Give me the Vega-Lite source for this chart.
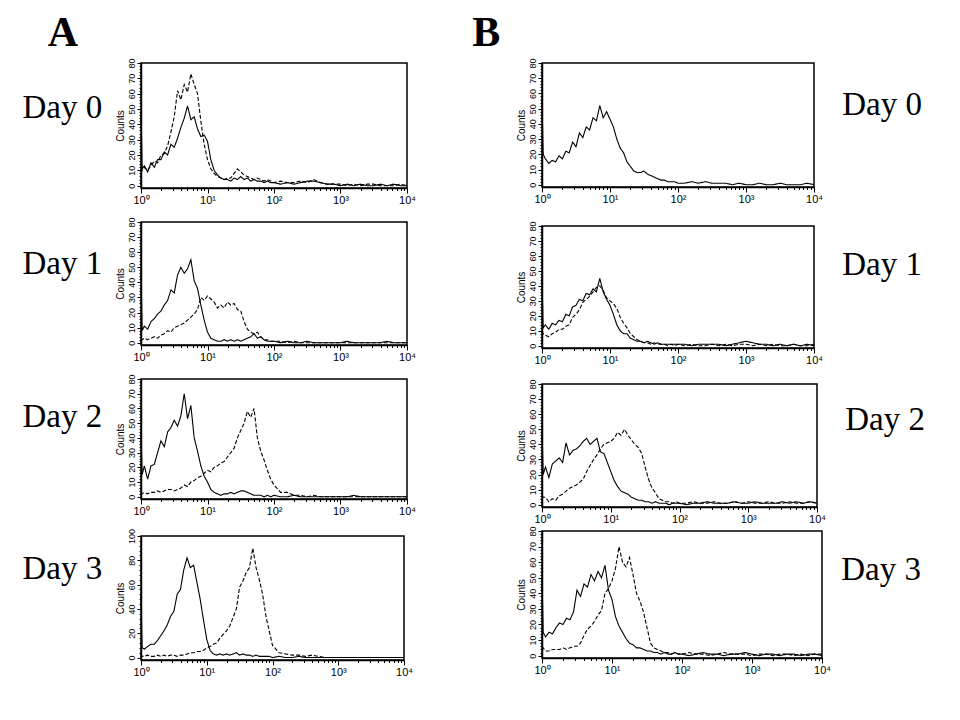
{
"$schema": "https://vega.github.io/schema/vega-lite/v6.json",
"background": "white",
"padding": {"left": 21, "top": 12, "right": 5, "bottom": 5},
"data": {"name": "h"},
"datasets": {"h": [
{"p":"A0","x":1,"s":50,"d":12},{"p":"A0","x":1.04,"s":11,"d":10},{"p":"A0","x":1.122,"s":13,"d":12},{"p":"A0","x":1.259,"s":9,"d":10},{"p":"A0","x":1.413,"s":15,"d":13},{"p":"A0","x":1.585,"s":12,"d":16},{"p":"A0","x":1.778,"s":17,"d":15},{"p":"A0","x":1.995,"s":17,"d":20},{"p":"A0","x":2.239,"s":22,"d":21},{"p":"A0","x":2.512,"s":20,"d":26},
{"p":"A0","x":2.818,"s":27,"d":35},{"p":"A0","x":3.162,"s":25,"d":45},{"p":"A0","x":3.548,"s":31,"d":62},{"p":"A0","x":3.981,"s":38,"d":56},{"p":"A0","x":4.467,"s":44,"d":66},{"p":"A0","x":5.012,"s":52,"d":61},{"p":"A0","x":5.623,"s":43,"d":73},{"p":"A0","x":6.31,"s":45,"d":66},{"p":"A0","x":7.079,"s":37,"d":60},{"p":"A0","x":7.943,"s":32,"d":42},
{"p":"A0","x":8.913,"s":33,"d":27},{"p":"A0","x":10,"s":29,"d":17},{"p":"A0","x":11.22,"s":17,"d":11},{"p":"A0","x":12.59,"s":10,"d":8},{"p":"A0","x":14.13,"s":7,"d":6},{"p":"A0","x":15.85,"s":5,"d":5},{"p":"A0","x":17.78,"s":4,"d":4},{"p":"A0","x":19.95,"s":4,"d":5},{"p":"A0","x":22.39,"s":3,"d":5},{"p":"A0","x":25.12,"s":5,"d":8},
{"p":"A0","x":28.18,"s":4,"d":11},{"p":"A0","x":31.62,"s":6,"d":9},{"p":"A0","x":35.48,"s":4,"d":7},{"p":"A0","x":39.81,"s":5,"d":6},{"p":"A0","x":44.67,"s":3,"d":5},{"p":"A0","x":50.12,"s":4,"d":4},{"p":"A0","x":56.23,"s":3,"d":5},{"p":"A0","x":63.1,"s":3,"d":4},{"p":"A0","x":70.79,"s":2,"d":3},{"p":"A0","x":79.43,"s":3,"d":4},
{"p":"A0","x":89.13,"s":2,"d":3},{"p":"A0","x":100,"s":2,"d":2},{"p":"A0","x":125.9,"s":1,"d":3},{"p":"A0","x":158.5,"s":2,"d":2},{"p":"A0","x":199.5,"s":1,"d":2},{"p":"A0","x":251.2,"s":2,"d":3},{"p":"A0","x":316.2,"s":3,"d":2},{"p":"A0","x":398.1,"s":3,"d":4},{"p":"A0","x":501.2,"s":2,"d":2},{"p":"A0","x":631,"s":1,"d":1},
{"p":"A0","x":794.3,"s":1,"d":1},{"p":"A0","x":1000,"s":0,"d":1},{"p":"A0","x":1259,"s":1,"d":0},{"p":"A0","x":1585,"s":0,"d":1},{"p":"A0","x":1995,"s":1,"d":0},{"p":"A0","x":2512,"s":0,"d":1},{"p":"A0","x":3162,"s":0,"d":1},{"p":"A0","x":3981,"s":1,"d":0},{"p":"A0","x":5012,"s":0,"d":0},{"p":"A0","x":6310,"s":1,"d":0},{"p":"A0","x":7943,"s":0,"d":1},{"p":"A0","x":10000,"s":0,"d":0},

{"p":"A1","x":1,"s":47,"d":3},{"p":"A1","x":1.04,"s":8,"d":2},{"p":"A1","x":1.122,"s":11,"d":3},{"p":"A1","x":1.259,"s":9,"d":2},{"p":"A1","x":1.413,"s":14,"d":3},{"p":"A1","x":1.585,"s":16,"d":4},{"p":"A1","x":1.778,"s":19,"d":3},{"p":"A1","x":1.995,"s":21,"d":5},{"p":"A1","x":2.239,"s":25,"d":6},{"p":"A1","x":2.512,"s":28,"d":8},
{"p":"A1","x":2.818,"s":35,"d":7},{"p":"A1","x":3.162,"s":33,"d":10},{"p":"A1","x":3.548,"s":45,"d":11},{"p":"A1","x":3.981,"s":50,"d":12},{"p":"A1","x":4.467,"s":46,"d":13},{"p":"A1","x":5.012,"s":49,"d":15},{"p":"A1","x":5.623,"s":55,"d":17},{"p":"A1","x":6.31,"s":41,"d":19},{"p":"A1","x":7.079,"s":36,"d":22},{"p":"A1","x":7.943,"s":25,"d":30},
{"p":"A1","x":8.913,"s":15,"d":28},{"p":"A1","x":10,"s":7,"d":31},{"p":"A1","x":11.22,"s":3,"d":29},{"p":"A1","x":12.59,"s":2,"d":27},{"p":"A1","x":14.13,"s":1,"d":23},{"p":"A1","x":15.85,"s":1,"d":25},{"p":"A1","x":17.78,"s":2,"d":23},{"p":"A1","x":19.95,"s":1,"d":27},{"p":"A1","x":22.39,"s":2,"d":25},{"p":"A1","x":25.12,"s":1,"d":26},
{"p":"A1","x":28.18,"s":2,"d":22},{"p":"A1","x":31.62,"s":1,"d":21},{"p":"A1","x":35.48,"s":2,"d":14},{"p":"A1","x":39.81,"s":3,"d":9},{"p":"A1","x":44.67,"s":4,"d":7},{"p":"A1","x":50.12,"s":6,"d":6},{"p":"A1","x":56.23,"s":3,"d":7},{"p":"A1","x":63.1,"s":4,"d":4},{"p":"A1","x":70.79,"s":2,"d":2},{"p":"A1","x":79.43,"s":1,"d":2},
{"p":"A1","x":89.13,"s":1,"d":1},{"p":"A1","x":100,"s":1,"d":1},{"p":"A1","x":125.9,"s":0,"d":1},{"p":"A1","x":158.5,"s":1,"d":0},{"p":"A1","x":199.5,"s":0,"d":1},{"p":"A1","x":251.2,"s":0,"d":0},{"p":"A1","x":316.2,"s":1,"d":0},{"p":"A1","x":398.1,"s":0,"d":0},{"p":"A1","x":501.2,"s":0,"d":0},{"p":"A1","x":631,"s":0,"d":0},
{"p":"A1","x":794.3,"s":0,"d":0},{"p":"A1","x":1000,"s":0,"d":0},{"p":"A1","x":1259,"s":1,"d":0},{"p":"A1","x":1585,"s":0,"d":0},{"p":"A1","x":1995,"s":0,"d":0},{"p":"A1","x":2512,"s":0,"d":0},{"p":"A1","x":3162,"s":0,"d":0},{"p":"A1","x":3981,"s":0,"d":0},{"p":"A1","x":5012,"s":1,"d":0},{"p":"A1","x":6310,"s":0,"d":0},{"p":"A1","x":7943,"s":0,"d":0},{"p":"A1","x":10000,"s":0,"d":0},

{"p":"A2","x":1,"s":45,"d":3},{"p":"A2","x":1.04,"s":15,"d":2},{"p":"A2","x":1.122,"s":21,"d":3},{"p":"A2","x":1.259,"s":12,"d":2},{"p":"A2","x":1.413,"s":21,"d":3},{"p":"A2","x":1.585,"s":22,"d":3},{"p":"A2","x":1.778,"s":30,"d":4},{"p":"A2","x":1.995,"s":38,"d":3},{"p":"A2","x":2.239,"s":34,"d":4},{"p":"A2","x":2.512,"s":44,"d":5},
{"p":"A2","x":2.818,"s":47,"d":5},{"p":"A2","x":3.162,"s":52,"d":4},{"p":"A2","x":3.548,"s":48,"d":5},{"p":"A2","x":3.981,"s":55,"d":6},{"p":"A2","x":4.467,"s":70,"d":8},{"p":"A2","x":5.012,"s":53,"d":7},{"p":"A2","x":5.623,"s":62,"d":10},{"p":"A2","x":6.31,"s":40,"d":11},{"p":"A2","x":7.079,"s":31,"d":13},{"p":"A2","x":7.943,"s":21,"d":14},
{"p":"A2","x":8.913,"s":14,"d":16},{"p":"A2","x":10,"s":10,"d":18},{"p":"A2","x":11.22,"s":5,"d":17},{"p":"A2","x":12.59,"s":3,"d":20},{"p":"A2","x":14.13,"s":2,"d":21},{"p":"A2","x":15.85,"s":1,"d":23},{"p":"A2","x":17.78,"s":2,"d":24},{"p":"A2","x":19.95,"s":2,"d":27},{"p":"A2","x":22.39,"s":3,"d":30},{"p":"A2","x":25.12,"s":2,"d":33},
{"p":"A2","x":28.18,"s":3,"d":40},{"p":"A2","x":31.62,"s":4,"d":45},{"p":"A2","x":35.48,"s":4,"d":50},{"p":"A2","x":39.81,"s":3,"d":58},{"p":"A2","x":44.67,"s":2,"d":54},{"p":"A2","x":50.12,"s":1,"d":60},{"p":"A2","x":56.23,"s":1,"d":40},{"p":"A2","x":63.1,"s":1,"d":31},{"p":"A2","x":70.79,"s":0,"d":25},{"p":"A2","x":79.43,"s":1,"d":18},
{"p":"A2","x":89.13,"s":0,"d":12},{"p":"A2","x":100,"s":1,"d":8},{"p":"A2","x":125.9,"s":0,"d":3},{"p":"A2","x":158.5,"s":0,"d":3},{"p":"A2","x":199.5,"s":1,"d":1},{"p":"A2","x":251.2,"s":0,"d":1},{"p":"A2","x":316.2,"s":0,"d":0},{"p":"A2","x":398.1,"s":0,"d":1},{"p":"A2","x":501.2,"s":0,"d":0},{"p":"A2","x":631,"s":0,"d":0},
{"p":"A2","x":794.3,"s":0,"d":0},{"p":"A2","x":1000,"s":0,"d":0},{"p":"A2","x":1259,"s":0,"d":0},{"p":"A2","x":1585,"s":1,"d":0},{"p":"A2","x":1995,"s":0,"d":0},{"p":"A2","x":2512,"s":0,"d":0},{"p":"A2","x":3162,"s":0,"d":0},{"p":"A2","x":3981,"s":0,"d":0},{"p":"A2","x":5012,"s":0,"d":0},{"p":"A2","x":6310,"s":0,"d":0},{"p":"A2","x":7943,"s":0,"d":0},{"p":"A2","x":10000,"s":0,"d":0},

{"p":"A3","x":1,"s":52,"d":3},{"p":"A3","x":1.04,"s":8,"d":1},{"p":"A3","x":1.122,"s":7,"d":1},{"p":"A3","x":1.259,"s":9,"d":2},{"p":"A3","x":1.413,"s":11,"d":1},{"p":"A3","x":1.585,"s":11,"d":1},{"p":"A3","x":1.778,"s":14,"d":2},{"p":"A3","x":1.995,"s":18,"d":1},{"p":"A3","x":2.239,"s":22,"d":2},{"p":"A3","x":2.512,"s":27,"d":1},
{"p":"A3","x":2.818,"s":34,"d":2},{"p":"A3","x":3.162,"s":38,"d":2},{"p":"A3","x":3.548,"s":52,"d":1},{"p":"A3","x":3.981,"s":56,"d":2},{"p":"A3","x":4.467,"s":72,"d":2},{"p":"A3","x":5.012,"s":82,"d":3},{"p":"A3","x":5.623,"s":74,"d":4},{"p":"A3","x":6.31,"s":76,"d":4},{"p":"A3","x":7.079,"s":62,"d":5},{"p":"A3","x":7.943,"s":48,"d":5},
{"p":"A3","x":8.913,"s":31,"d":6},{"p":"A3","x":10,"s":15,"d":8},{"p":"A3","x":11.22,"s":6,"d":9},{"p":"A3","x":12.59,"s":3,"d":11},{"p":"A3","x":14.13,"s":2,"d":12},{"p":"A3","x":15.85,"s":3,"d":16},{"p":"A3","x":17.78,"s":2,"d":19},{"p":"A3","x":19.95,"s":3,"d":22},{"p":"A3","x":22.39,"s":2,"d":26},{"p":"A3","x":25.12,"s":3,"d":33},
{"p":"A3","x":28.18,"s":4,"d":40},{"p":"A3","x":31.62,"s":2,"d":58},{"p":"A3","x":35.48,"s":3,"d":63},{"p":"A3","x":39.81,"s":2,"d":70},{"p":"A3","x":44.67,"s":2,"d":74},{"p":"A3","x":50.12,"s":1,"d":90},{"p":"A3","x":56.23,"s":2,"d":74},{"p":"A3","x":63.1,"s":1,"d":64},{"p":"A3","x":70.79,"s":1,"d":52},{"p":"A3","x":79.43,"s":1,"d":34},
{"p":"A3","x":89.13,"s":1,"d":22},{"p":"A3","x":100,"s":0,"d":10},{"p":"A3","x":125.9,"s":1,"d":4},{"p":"A3","x":158.5,"s":0,"d":3},{"p":"A3","x":199.5,"s":0,"d":2},{"p":"A3","x":251.2,"s":1,"d":2},{"p":"A3","x":316.2,"s":0,"d":1},{"p":"A3","x":398.1,"s":0,"d":2},{"p":"A3","x":501.2,"s":0,"d":1},{"p":"A3","x":631,"s":0,"d":0},
{"p":"A3","x":794.3,"s":0,"d":0},{"p":"A3","x":1000,"s":0,"d":0},{"p":"A3","x":1259,"s":0,"d":0},{"p":"A3","x":1585,"s":0,"d":0},{"p":"A3","x":1995,"s":0,"d":0},{"p":"A3","x":2512,"s":0,"d":0},{"p":"A3","x":3162,"s":0,"d":0},{"p":"A3","x":3981,"s":0,"d":0},{"p":"A3","x":5012,"s":0,"d":0},{"p":"A3","x":6310,"s":0,"d":0},{"p":"A3","x":7943,"s":0,"d":0},{"p":"A3","x":10000,"s":0,"d":0},

{"p":"B0","x":1,"s":55},{"p":"B0","x":1.04,"s":20},{"p":"B0","x":1.122,"s":17},{"p":"B0","x":1.259,"s":14},{"p":"B0","x":1.413,"s":16},{"p":"B0","x":1.585,"s":15},{"p":"B0","x":1.778,"s":19},{"p":"B0","x":1.995,"s":17},{"p":"B0","x":2.239,"s":22},{"p":"B0","x":2.512,"s":21},
{"p":"B0","x":2.818,"s":28},{"p":"B0","x":3.162,"s":25},{"p":"B0","x":3.548,"s":34},{"p":"B0","x":3.981,"s":31},{"p":"B0","x":4.467,"s":38},{"p":"B0","x":5.012,"s":36},{"p":"B0","x":5.623,"s":44},{"p":"B0","x":6.31,"s":42},{"p":"B0","x":7.079,"s":52},{"p":"B0","x":7.943,"s":44},
{"p":"B0","x":8.913,"s":48},{"p":"B0","x":10,"s":43},{"p":"B0","x":11.22,"s":38},{"p":"B0","x":12.59,"s":30},{"p":"B0","x":14.13,"s":24},{"p":"B0","x":15.85,"s":21},{"p":"B0","x":17.78,"s":15},{"p":"B0","x":19.95,"s":12},{"p":"B0","x":22.39,"s":9},{"p":"B0","x":25.12,"s":8},
{"p":"B0","x":28.18,"s":8},{"p":"B0","x":31.62,"s":9},{"p":"B0","x":35.48,"s":7},{"p":"B0","x":39.81,"s":6},{"p":"B0","x":44.67,"s":5},{"p":"B0","x":50.12,"s":4},{"p":"B0","x":56.23,"s":3},{"p":"B0","x":63.1,"s":3},{"p":"B0","x":70.79,"s":2},{"p":"B0","x":79.43,"s":2},
{"p":"B0","x":89.13,"s":2},{"p":"B0","x":100,"s":1},{"p":"B0","x":125.9,"s":1},{"p":"B0","x":158.5,"s":2},{"p":"B0","x":199.5,"s":1},{"p":"B0","x":251.2,"s":2},{"p":"B0","x":316.2,"s":1},{"p":"B0","x":398.1,"s":1},{"p":"B0","x":501.2,"s":1},{"p":"B0","x":631,"s":0},
{"p":"B0","x":794.3,"s":1},{"p":"B0","x":1000,"s":0},{"p":"B0","x":1259,"s":0},{"p":"B0","x":1585,"s":1},{"p":"B0","x":1995,"s":0},{"p":"B0","x":2512,"s":0},{"p":"B0","x":3162,"s":1},{"p":"B0","x":3981,"s":0},{"p":"B0","x":5012,"s":0},{"p":"B0","x":6310,"s":0},{"p":"B0","x":7943,"s":1},{"p":"B0","x":10000,"s":0},

{"p":"B1","x":1,"s":45,"d":10},{"p":"B1","x":1.04,"s":12,"d":8},{"p":"B1","x":1.122,"s":14,"d":7},{"p":"B1","x":1.259,"s":11,"d":6},{"p":"B1","x":1.413,"s":15,"d":8},{"p":"B1","x":1.585,"s":14,"d":9},{"p":"B1","x":1.778,"s":17,"d":11},{"p":"B1","x":1.995,"s":16,"d":11},{"p":"B1","x":2.239,"s":21,"d":13},{"p":"B1","x":2.512,"s":20,"d":14},
{"p":"B1","x":2.818,"s":26,"d":19},{"p":"B1","x":3.162,"s":27,"d":21},{"p":"B1","x":3.548,"s":31,"d":24},{"p":"B1","x":3.981,"s":30,"d":29},{"p":"B1","x":4.467,"s":35,"d":31},{"p":"B1","x":5.012,"s":34,"d":33},{"p":"B1","x":5.623,"s":38,"d":36},{"p":"B1","x":6.31,"s":36,"d":39},{"p":"B1","x":7.079,"s":45,"d":40},{"p":"B1","x":7.943,"s":36,"d":37},
{"p":"B1","x":8.913,"s":31,"d":32},{"p":"B1","x":10,"s":27,"d":30},{"p":"B1","x":11.22,"s":21,"d":28},{"p":"B1","x":12.59,"s":14,"d":25},{"p":"B1","x":14.13,"s":10,"d":19},{"p":"B1","x":15.85,"s":8,"d":15},{"p":"B1","x":17.78,"s":8,"d":12},{"p":"B1","x":19.95,"s":5,"d":8},{"p":"B1","x":22.39,"s":4,"d":6},{"p":"B1","x":25.12,"s":3,"d":4},
{"p":"B1","x":28.18,"s":3,"d":3},{"p":"B1","x":31.62,"s":2,"d":2},{"p":"B1","x":35.48,"s":3,"d":2},{"p":"B1","x":39.81,"s":2,"d":1},{"p":"B1","x":44.67,"s":1,"d":2},{"p":"B1","x":50.12,"s":2,"d":1},{"p":"B1","x":56.23,"s":1,"d":1},{"p":"B1","x":63.1,"s":1,"d":1},{"p":"B1","x":70.79,"s":1,"d":0},{"p":"B1","x":79.43,"s":1,"d":1},
{"p":"B1","x":89.13,"s":1,"d":0},{"p":"B1","x":100,"s":1,"d":1},{"p":"B1","x":125.9,"s":1,"d":0},{"p":"B1","x":158.5,"s":0,"d":1},{"p":"B1","x":199.5,"s":1,"d":0},{"p":"B1","x":251.2,"s":1,"d":0},{"p":"B1","x":316.2,"s":1,"d":1},{"p":"B1","x":398.1,"s":1,"d":0},{"p":"B1","x":501.2,"s":0,"d":1},{"p":"B1","x":631,"s":1,"d":0},
{"p":"B1","x":794.3,"s":2,"d":1},{"p":"B1","x":1000,"s":3,"d":1},{"p":"B1","x":1259,"s":2,"d":0},{"p":"B1","x":1585,"s":1,"d":1},{"p":"B1","x":1995,"s":1,"d":0},{"p":"B1","x":2512,"s":0,"d":1},{"p":"B1","x":3162,"s":1,"d":0},{"p":"B1","x":3981,"s":0,"d":0},{"p":"B1","x":5012,"s":1,"d":1},{"p":"B1","x":6310,"s":0,"d":0},{"p":"B1","x":7943,"s":1,"d":0},{"p":"B1","x":10000,"s":0,"d":1},

{"p":"B2","x":1,"s":50,"d":6},{"p":"B2","x":1.04,"s":20,"d":5},{"p":"B2","x":1.122,"s":25,"d":5},{"p":"B2","x":1.259,"s":18,"d":2},{"p":"B2","x":1.413,"s":27,"d":4},{"p":"B2","x":1.585,"s":29,"d":3},{"p":"B2","x":1.778,"s":31,"d":6},{"p":"B2","x":1.995,"s":28,"d":7},{"p":"B2","x":2.239,"s":41,"d":9},{"p":"B2","x":2.512,"s":33,"d":11},
{"p":"B2","x":2.818,"s":36,"d":12},{"p":"B2","x":3.162,"s":37,"d":13},{"p":"B2","x":3.548,"s":39,"d":15},{"p":"B2","x":3.981,"s":42,"d":17},{"p":"B2","x":4.467,"s":44,"d":22},{"p":"B2","x":5.012,"s":40,"d":26},{"p":"B2","x":5.623,"s":42,"d":30},{"p":"B2","x":6.31,"s":44,"d":33},{"p":"B2","x":7.079,"s":35,"d":37},{"p":"B2","x":7.943,"s":34,"d":40},
{"p":"B2","x":8.913,"s":28,"d":41},{"p":"B2","x":10,"s":22,"d":42},{"p":"B2","x":11.22,"s":16,"d":44},{"p":"B2","x":12.59,"s":12,"d":48},{"p":"B2","x":14.13,"s":9,"d":46},{"p":"B2","x":15.85,"s":8,"d":50},{"p":"B2","x":17.78,"s":7,"d":46},{"p":"B2","x":19.95,"s":5,"d":43},{"p":"B2","x":22.39,"s":4,"d":40},{"p":"B2","x":25.12,"s":3,"d":38},
{"p":"B2","x":28.18,"s":3,"d":34},{"p":"B2","x":31.62,"s":2,"d":25},{"p":"B2","x":35.48,"s":2,"d":17},{"p":"B2","x":39.81,"s":1,"d":11},{"p":"B2","x":44.67,"s":2,"d":8},{"p":"B2","x":50.12,"s":1,"d":4},{"p":"B2","x":56.23,"s":1,"d":3},{"p":"B2","x":63.1,"s":1,"d":2},{"p":"B2","x":70.79,"s":0,"d":2},{"p":"B2","x":79.43,"s":1,"d":1},
{"p":"B2","x":89.13,"s":1,"d":2},{"p":"B2","x":100,"s":1,"d":1},{"p":"B2","x":125.9,"s":0,"d":1},{"p":"B2","x":158.5,"s":1,"d":2},{"p":"B2","x":199.5,"s":1,"d":1},{"p":"B2","x":251.2,"s":2,"d":1},{"p":"B2","x":316.2,"s":1,"d":2},{"p":"B2","x":398.1,"s":1,"d":1},{"p":"B2","x":501.2,"s":1,"d":1},{"p":"B2","x":631,"s":2,"d":2},
{"p":"B2","x":794.3,"s":1,"d":1},{"p":"B2","x":1000,"s":1,"d":2},{"p":"B2","x":1259,"s":2,"d":1},{"p":"B2","x":1585,"s":1,"d":1},{"p":"B2","x":1995,"s":1,"d":2},{"p":"B2","x":2512,"s":1,"d":1},{"p":"B2","x":3162,"s":2,"d":1},{"p":"B2","x":3981,"s":1,"d":2},{"p":"B2","x":5012,"s":2,"d":1},{"p":"B2","x":6310,"s":1,"d":1},{"p":"B2","x":7943,"s":2,"d":2},{"p":"B2","x":10000,"s":1,"d":1},

{"p":"B3","x":1,"s":50,"d":6},{"p":"B3","x":1.04,"s":15,"d":5},{"p":"B3","x":1.122,"s":12,"d":3},{"p":"B3","x":1.259,"s":15,"d":3},{"p":"B3","x":1.413,"s":14,"d":4},{"p":"B3","x":1.585,"s":18,"d":4},{"p":"B3","x":1.778,"s":21,"d":4},{"p":"B3","x":1.995,"s":20,"d":5},{"p":"B3","x":2.239,"s":24,"d":4},{"p":"B3","x":2.512,"s":23,"d":5},
{"p":"B3","x":2.818,"s":28,"d":6},{"p":"B3","x":3.162,"s":42,"d":6},{"p":"B3","x":3.548,"s":38,"d":8},{"p":"B3","x":3.981,"s":46,"d":13},{"p":"B3","x":4.467,"s":44,"d":17},{"p":"B3","x":5.012,"s":52,"d":19},{"p":"B3","x":5.623,"s":48,"d":22},{"p":"B3","x":6.31,"s":54,"d":26},{"p":"B3","x":7.079,"s":50,"d":29},{"p":"B3","x":7.943,"s":58,"d":40},
{"p":"B3","x":8.913,"s":42,"d":43},{"p":"B3","x":10,"s":36,"d":48},{"p":"B3","x":11.22,"s":25,"d":56},{"p":"B3","x":12.59,"s":19,"d":70},{"p":"B3","x":14.13,"s":15,"d":60},{"p":"B3","x":15.85,"s":11,"d":57},{"p":"B3","x":17.78,"s":8,"d":63},{"p":"B3","x":19.95,"s":7,"d":52},{"p":"B3","x":22.39,"s":5,"d":40},{"p":"B3","x":25.12,"s":5,"d":35},
{"p":"B3","x":28.18,"s":4,"d":28},{"p":"B3","x":31.62,"s":3,"d":18},{"p":"B3","x":35.48,"s":3,"d":8},{"p":"B3","x":39.81,"s":2,"d":5},{"p":"B3","x":44.67,"s":2,"d":4},{"p":"B3","x":50.12,"s":1,"d":3},{"p":"B3","x":56.23,"s":2,"d":2},{"p":"B3","x":63.1,"s":1,"d":2},{"p":"B3","x":70.79,"s":1,"d":1},{"p":"B3","x":79.43,"s":2,"d":2},
{"p":"B3","x":89.13,"s":1,"d":1},{"p":"B3","x":100,"s":1,"d":1},{"p":"B3","x":125.9,"s":0,"d":2},{"p":"B3","x":158.5,"s":1,"d":1},{"p":"B3","x":199.5,"s":2,"d":1},{"p":"B3","x":251.2,"s":1,"d":0},{"p":"B3","x":316.2,"s":1,"d":1},{"p":"B3","x":398.1,"s":0,"d":2},{"p":"B3","x":501.2,"s":1,"d":1},{"p":"B3","x":631,"s":1,"d":1},
{"p":"B3","x":794.3,"s":2,"d":1},{"p":"B3","x":1000,"s":1,"d":0},{"p":"B3","x":1259,"s":0,"d":1},{"p":"B3","x":1585,"s":1,"d":1},{"p":"B3","x":1995,"s":1,"d":0},{"p":"B3","x":2512,"s":0,"d":1},{"p":"B3","x":3162,"s":1,"d":1},{"p":"B3","x":3981,"s":1,"d":0},{"p":"B3","x":5012,"s":0,"d":1},{"p":"B3","x":6310,"s":1,"d":0},{"p":"B3","x":7943,"s":1,"d":1},{"p":"B3","x":10000,"s":0,"d":1}
]},
"config": {
  "view": {"stroke": "black", "strokeWidth": 1.5},
  "font": "Liberation Sans",
  "axis": {"grid": false, "domainColor": "black", "domainWidth": 1.5, "tickColor": "black", "labelColor": "black", "titleColor": "black", "labelFont": "Liberation Sans", "titleFont": "Liberation Sans"},
  "title": {"color": "black"}
},
"spacing": 55,
"hconcat": [
{
  "title": {"text": "A", "anchor": "start", "font": "Liberation Serif", "fontSize": 42, "fontWeight": "bold", "dx": 26, "offset": 2},
  "spacing": 10,
  "vconcat": [
    {"width": 266, "height": 125,
     "title": {"text": "Day 0", "orient": "left", "angle": 0, "align": "right", "baseline": "middle", "frame": "group", "offset": -67, "dy": -18, "font": "Liberation Serif", "fontSize": 33, "fontWeight": "normal"},
     "transform": [{"filter": "datum.p == 'A0'"}, {"fold": ["s", "d"], "as": ["series", "count"]}, {"filter": "isValid(datum.count)"}],
     "mark": {"type": "line", "color": "black", "strokeWidth": 1.1},
     "encoding": {
       "x": {"field": "x", "type": "quantitative", "scale": {"type": "log", "domain": [1, 10000], "nice": false}, "axis": {"title": null, "values": [1,2,3,4,5,6,7,8,9,10,20,30,40,50,60,70,80,90,100,200,300,400,500,600,700,800,900,1000,2000,3000,4000,5000,6000,7000,8000,9000,10000], "labelExpr": "datum.value == 1 ? '10⁰' : datum.value == 10 ? '10¹' : datum.value == 100 ? '10²' : datum.value == 1000 ? '10³' : datum.value == 10000 ? '10⁴' : ''", "tickSize": {"condition": {"test": "indexof([1,10,100,1000,10000], datum.value) >= 0", "value": 5}, "value": 2.5}, "labelFlush": false, "labelOverlap": false, "labelFontSize": 11, "labelPadding": 1}},
       "y": {"field": "count", "type": "quantitative", "scale": {"domain": [-1.5, 80], "nice": false}, "axis": {"title": "Counts", "values": [0,2,4,6,8,10,12,14,16,18,20,22,24,26,28,30,32,34,36,38,40,42,44,46,48,50,52,54,56,58,60,62,64,66,68,70,72,74,76,78,80], "labelExpr": "datum.value % 10 == 0 ? datum.label : ''", "tickSize": {"condition": {"test": "datum.value % 10 == 0", "value": 4}, "value": 2}, "labelAngle": -90, "labelFontSize": 9, "labelOverlap": false, "labelFlush": false, "labelPadding": 1, "titleFontSize": 10, "titleFontWeight": "normal", "titlePadding": 2}},
       "strokeDash": {"field": "series", "type": "nominal", "scale": {"domain": ["s", "d"], "range": [[1, 0], [4, 2]]}, "legend": null}
     }},
    {"width": 266, "height": 123,
     "title": {"text": "Day 1", "orient": "left", "angle": 0, "align": "right", "baseline": "middle", "frame": "group", "offset": -67, "dy": -20, "font": "Liberation Serif", "fontSize": 33, "fontWeight": "normal"},
     "transform": [{"filter": "datum.p == 'A1'"}, {"fold": ["s", "d"], "as": ["series", "count"]}, {"filter": "isValid(datum.count)"}],
     "mark": {"type": "line", "color": "black", "strokeWidth": 1.1},
     "encoding": {
       "x": {"field": "x", "type": "quantitative", "scale": {"type": "log", "domain": [1, 10000], "nice": false}, "axis": {"title": null, "values": [1,2,3,4,5,6,7,8,9,10,20,30,40,50,60,70,80,90,100,200,300,400,500,600,700,800,900,1000,2000,3000,4000,5000,6000,7000,8000,9000,10000], "labelExpr": "datum.value == 1 ? '10⁰' : datum.value == 10 ? '10¹' : datum.value == 100 ? '10²' : datum.value == 1000 ? '10³' : datum.value == 10000 ? '10⁴' : ''", "tickSize": {"condition": {"test": "indexof([1,10,100,1000,10000], datum.value) >= 0", "value": 5}, "value": 2.5}, "labelFlush": false, "labelOverlap": false, "labelFontSize": 11, "labelPadding": 1}},
       "y": {"field": "count", "type": "quantitative", "scale": {"domain": [-1.5, 80], "nice": false}, "axis": {"title": "Counts", "values": [0,2,4,6,8,10,12,14,16,18,20,22,24,26,28,30,32,34,36,38,40,42,44,46,48,50,52,54,56,58,60,62,64,66,68,70,72,74,76,78,80], "labelExpr": "datum.value % 10 == 0 ? datum.label : ''", "tickSize": {"condition": {"test": "datum.value % 10 == 0", "value": 4}, "value": 2}, "labelAngle": -90, "labelFontSize": 9, "labelOverlap": false, "labelFlush": false, "labelPadding": 1, "titleFontSize": 10, "titleFontWeight": "normal", "titlePadding": 2}},
       "strokeDash": {"field": "series", "type": "nominal", "scale": {"domain": ["s", "d"], "range": [[1, 0], [4, 2]]}, "legend": null}
     }},
    {"width": 266, "height": 120,
     "title": {"text": "Day 2", "orient": "left", "angle": 0, "align": "right", "baseline": "middle", "frame": "group", "offset": -67, "dy": -22, "font": "Liberation Serif", "fontSize": 33, "fontWeight": "normal"},
     "transform": [{"filter": "datum.p == 'A2'"}, {"fold": ["s", "d"], "as": ["series", "count"]}, {"filter": "isValid(datum.count)"}],
     "mark": {"type": "line", "color": "black", "strokeWidth": 1.1},
     "encoding": {
       "x": {"field": "x", "type": "quantitative", "scale": {"type": "log", "domain": [1, 10000], "nice": false}, "axis": {"title": null, "values": [1,2,3,4,5,6,7,8,9,10,20,30,40,50,60,70,80,90,100,200,300,400,500,600,700,800,900,1000,2000,3000,4000,5000,6000,7000,8000,9000,10000], "labelExpr": "datum.value == 1 ? '10⁰' : datum.value == 10 ? '10¹' : datum.value == 100 ? '10²' : datum.value == 1000 ? '10³' : datum.value == 10000 ? '10⁴' : ''", "tickSize": {"condition": {"test": "indexof([1,10,100,1000,10000], datum.value) >= 0", "value": 5}, "value": 2.5}, "labelFlush": false, "labelOverlap": false, "labelFontSize": 11, "labelPadding": 1}},
       "y": {"field": "count", "type": "quantitative", "scale": {"domain": [-1.5, 80], "nice": false}, "axis": {"title": "Counts", "values": [0,2,4,6,8,10,12,14,16,18,20,22,24,26,28,30,32,34,36,38,40,42,44,46,48,50,52,54,56,58,60,62,64,66,68,70,72,74,76,78,80], "labelExpr": "datum.value % 10 == 0 ? datum.label : ''", "tickSize": {"condition": {"test": "datum.value % 10 == 0", "value": 4}, "value": 2}, "labelAngle": -90, "labelFontSize": 9, "labelOverlap": false, "labelFlush": false, "labelPadding": 1, "titleFontSize": 10, "titleFontWeight": "normal", "titlePadding": 2}},
       "strokeDash": {"field": "series", "type": "nominal", "scale": {"domain": ["s", "d"], "range": [[1, 0], [4, 2]]}, "legend": null}
     }},
    {"width": 263, "height": 124,
     "title": {"text": "Day 3", "orient": "left", "angle": 0, "align": "right", "baseline": "middle", "frame": "group", "offset": -67, "dy": -29, "font": "Liberation Serif", "fontSize": 33, "fontWeight": "normal"},
     "transform": [{"filter": "datum.p == 'A3'"}, {"fold": ["s", "d"], "as": ["series", "count"]}, {"filter": "isValid(datum.count)"}],
     "mark": {"type": "line", "color": "black", "strokeWidth": 1.1},
     "encoding": {
       "x": {"field": "x", "type": "quantitative", "scale": {"type": "log", "domain": [1, 10000], "nice": false}, "axis": {"title": null, "values": [1,2,3,4,5,6,7,8,9,10,20,30,40,50,60,70,80,90,100,200,300,400,500,600,700,800,900,1000,2000,3000,4000,5000,6000,7000,8000,9000,10000], "labelExpr": "datum.value == 1 ? '10⁰' : datum.value == 10 ? '10¹' : datum.value == 100 ? '10²' : datum.value == 1000 ? '10³' : datum.value == 10000 ? '10⁴' : ''", "tickSize": {"condition": {"test": "indexof([1,10,100,1000,10000], datum.value) >= 0", "value": 5}, "value": 2.5}, "labelFlush": false, "labelOverlap": false, "labelFontSize": 11, "labelPadding": 1}},
       "y": {"field": "count", "type": "quantitative", "scale": {"domain": [-2, 100], "nice": false}, "axis": {"title": "Counts", "values": [0,4,8,12,16,20,24,28,32,36,40,44,48,52,56,60,64,68,72,76,80,84,88,92,96,100], "labelExpr": "datum.value % 20 == 0 ? datum.label : ''", "tickSize": {"condition": {"test": "datum.value % 20 == 0", "value": 4}, "value": 2}, "labelAngle": -90, "labelFontSize": 9, "labelOverlap": false, "labelFlush": false, "labelPadding": 1, "titleFontSize": 10, "titleFontWeight": "normal", "titlePadding": 2}},
       "strokeDash": {"field": "series", "type": "nominal", "scale": {"domain": ["s", "d"], "range": [[1, 0], [4, 2]]}, "legend": null}
     }}
  ]
},
{
  "title": {"text": "B", "anchor": "start", "font": "Liberation Serif", "fontSize": 42, "fontWeight": "bold", "dx": -43, "offset": 2},
  "spacing": 12,
  "vconcat": [
   {"spacing": 15,
    "vconcat": [
    {"width": 272, "height": 124,
     "title": {"text": "Day 0", "orient": "right", "angle": 0, "align": "left", "baseline": "middle", "frame": "group", "offset": -60, "dy": -20, "font": "Liberation Serif", "fontSize": 33, "fontWeight": "normal"},
     "transform": [{"filter": "datum.p == 'B0'"}, {"fold": ["s", "d"], "as": ["series", "count"]}, {"filter": "isValid(datum.count)"}],
     "mark": {"type": "line", "color": "black", "strokeWidth": 1.1},
     "encoding": {
       "x": {"field": "x", "type": "quantitative", "scale": {"type": "log", "domain": [1, 10000], "nice": false}, "axis": {"title": null, "values": [1,2,3,4,5,6,7,8,9,10,20,30,40,50,60,70,80,90,100,200,300,400,500,600,700,800,900,1000,2000,3000,4000,5000,6000,7000,8000,9000,10000], "labelExpr": "datum.value == 1 ? '10⁰' : datum.value == 10 ? '10¹' : datum.value == 100 ? '10²' : datum.value == 1000 ? '10³' : datum.value == 10000 ? '10⁴' : ''", "tickSize": {"condition": {"test": "indexof([1,10,100,1000,10000], datum.value) >= 0", "value": 5}, "value": 2.5}, "labelFlush": false, "labelOverlap": false, "labelFontSize": 11, "labelPadding": 1}},
       "y": {"field": "count", "type": "quantitative", "scale": {"domain": [-1.5, 80], "nice": false}, "axis": {"title": "Counts", "values": [0,2,4,6,8,10,12,14,16,18,20,22,24,26,28,30,32,34,36,38,40,42,44,46,48,50,52,54,56,58,60,62,64,66,68,70,72,74,76,78,80], "labelExpr": "datum.value % 10 == 0 ? datum.label : ''", "tickSize": {"condition": {"test": "datum.value % 10 == 0", "value": 4}, "value": 2}, "labelAngle": -90, "labelFontSize": 9, "labelOverlap": false, "labelFlush": false, "labelPadding": 1, "titleFontSize": 10, "titleFontWeight": "normal", "titlePadding": 2}},
       "strokeDash": {"field": "series", "type": "nominal", "scale": {"domain": ["s", "d"], "range": [[1, 0], [4, 2]]}, "legend": null}
     }},
    {"width": 272, "height": 122,
     "title": {"text": "Day 1", "orient": "right", "angle": 0, "align": "left", "baseline": "middle", "frame": "group", "offset": -60, "dy": -22, "font": "Liberation Serif", "fontSize": 33, "fontWeight": "normal"},
     "transform": [{"filter": "datum.p == 'B1'"}, {"fold": ["s", "d"], "as": ["series", "count"]}, {"filter": "isValid(datum.count)"}],
     "mark": {"type": "line", "color": "black", "strokeWidth": 1.1},
     "encoding": {
       "x": {"field": "x", "type": "quantitative", "scale": {"type": "log", "domain": [1, 10000], "nice": false}, "axis": {"title": null, "values": [1,2,3,4,5,6,7,8,9,10,20,30,40,50,60,70,80,90,100,200,300,400,500,600,700,800,900,1000,2000,3000,4000,5000,6000,7000,8000,9000,10000], "labelExpr": "datum.value == 1 ? '10⁰' : datum.value == 10 ? '10¹' : datum.value == 100 ? '10²' : datum.value == 1000 ? '10³' : datum.value == 10000 ? '10⁴' : ''", "tickSize": {"condition": {"test": "indexof([1,10,100,1000,10000], datum.value) >= 0", "value": 5}, "value": 2.5}, "labelFlush": false, "labelOverlap": false, "labelFontSize": 11, "labelPadding": 1}},
       "y": {"field": "count", "type": "quantitative", "scale": {"domain": [-1.5, 80], "nice": false}, "axis": {"title": "Counts", "values": [0,2,4,6,8,10,12,14,16,18,20,22,24,26,28,30,32,34,36,38,40,42,44,46,48,50,52,54,56,58,60,62,64,66,68,70,72,74,76,78,80], "labelExpr": "datum.value % 10 == 0 ? datum.label : ''", "tickSize": {"condition": {"test": "datum.value % 10 == 0", "value": 4}, "value": 2}, "labelAngle": -90, "labelFontSize": 9, "labelOverlap": false, "labelFlush": false, "labelPadding": 1, "titleFontSize": 10, "titleFontWeight": "normal", "titlePadding": 2}},
       "strokeDash": {"field": "series", "type": "nominal", "scale": {"domain": ["s", "d"], "range": [[1, 0], [4, 2]]}, "legend": null}
     }}
    ]},
   {"spacing": 0,
    "vconcat": [
    {"width": 275, "height": 123,
     "title": {"text": "Day 2", "orient": "right", "angle": 0, "align": "left", "baseline": "middle", "frame": "group", "offset": -60, "dy": -26, "font": "Liberation Serif", "fontSize": 33, "fontWeight": "normal"},
     "transform": [{"filter": "datum.p == 'B2'"}, {"fold": ["s", "d"], "as": ["series", "count"]}, {"filter": "isValid(datum.count)"}],
     "mark": {"type": "line", "color": "black", "strokeWidth": 1.1},
     "encoding": {
       "x": {"field": "x", "type": "quantitative", "scale": {"type": "log", "domain": [1, 10000], "nice": false}, "axis": {"title": null, "values": [1,2,3,4,5,6,7,8,9,10,20,30,40,50,60,70,80,90,100,200,300,400,500,600,700,800,900,1000,2000,3000,4000,5000,6000,7000,8000,9000,10000], "labelExpr": "datum.value == 1 ? '10⁰' : datum.value == 10 ? '10¹' : datum.value == 100 ? '10²' : datum.value == 1000 ? '10³' : datum.value == 10000 ? '10⁴' : ''", "tickSize": {"condition": {"test": "indexof([1,10,100,1000,10000], datum.value) >= 0", "value": 5}, "value": 2.5}, "labelFlush": false, "labelOverlap": false, "labelFontSize": 11, "labelPadding": 1}},
       "y": {"field": "count", "type": "quantitative", "scale": {"domain": [-1.5, 80], "nice": false}, "axis": {"title": "Counts", "values": [0,2,4,6,8,10,12,14,16,18,20,22,24,26,28,30,32,34,36,38,40,42,44,46,48,50,52,54,56,58,60,62,64,66,68,70,72,74,76,78,80], "labelExpr": "datum.value % 10 == 0 ? datum.label : ''", "tickSize": {"condition": {"test": "datum.value % 10 == 0", "value": 4}, "value": 2}, "labelAngle": -90, "labelFontSize": 9, "labelOverlap": false, "labelFlush": false, "labelPadding": 1, "titleFontSize": 10, "titleFontWeight": "normal", "titlePadding": 2}},
       "strokeDash": {"field": "series", "type": "nominal", "scale": {"domain": ["s", "d"], "range": [[1, 0], [4, 2]]}, "legend": null}
     }},
    {"width": 280, "height": 127,
     "title": {"text": "Day 3", "orient": "right", "angle": 0, "align": "left", "baseline": "middle", "frame": "group", "offset": -69, "dy": -25, "font": "Liberation Serif", "fontSize": 33, "fontWeight": "normal"},
     "transform": [{"filter": "datum.p == 'B3'"}, {"fold": ["s", "d"], "as": ["series", "count"]}, {"filter": "isValid(datum.count)"}],
     "mark": {"type": "line", "color": "black", "strokeWidth": 1.1},
     "encoding": {
       "x": {"field": "x", "type": "quantitative", "scale": {"type": "log", "domain": [1, 10000], "nice": false}, "axis": {"title": null, "values": [1,2,3,4,5,6,7,8,9,10,20,30,40,50,60,70,80,90,100,200,300,400,500,600,700,800,900,1000,2000,3000,4000,5000,6000,7000,8000,9000,10000], "labelExpr": "datum.value == 1 ? '10⁰' : datum.value == 10 ? '10¹' : datum.value == 100 ? '10²' : datum.value == 1000 ? '10³' : datum.value == 10000 ? '10⁴' : ''", "tickSize": {"condition": {"test": "indexof([1,10,100,1000,10000], datum.value) >= 0", "value": 5}, "value": 2.5}, "labelFlush": false, "labelOverlap": false, "labelFontSize": 11, "labelPadding": 1}},
       "y": {"field": "count", "type": "quantitative", "scale": {"domain": [-1.5, 80], "nice": false}, "axis": {"title": "Counts", "values": [0,2,4,6,8,10,12,14,16,18,20,22,24,26,28,30,32,34,36,38,40,42,44,46,48,50,52,54,56,58,60,62,64,66,68,70,72,74,76,78,80], "labelExpr": "datum.value % 10 == 0 ? datum.label : ''", "tickSize": {"condition": {"test": "datum.value % 10 == 0", "value": 4}, "value": 2}, "labelAngle": -90, "labelFontSize": 9, "labelOverlap": false, "labelFlush": false, "labelPadding": 1, "titleFontSize": 10, "titleFontWeight": "normal", "titlePadding": 2}},
       "strokeDash": {"field": "series", "type": "nominal", "scale": {"domain": ["s", "d"], "range": [[1, 0], [4, 2]]}, "legend": null}
     }}
    ]}
  ]
}
]
}
